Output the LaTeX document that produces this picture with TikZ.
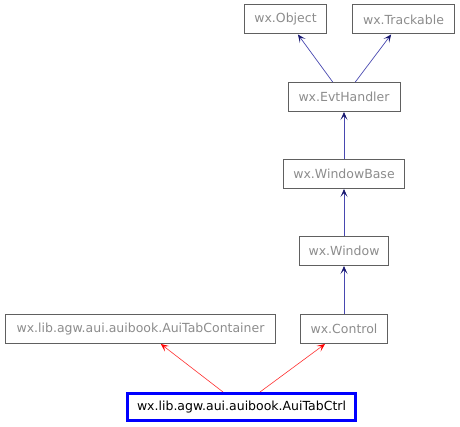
\documentclass[tikz,border=0pt]{standalone}
\usepackage{fontspec}
\setmainfont{DejaVu Sans}
\usetikzlibrary{arrows.meta,calc}
\definecolor{boxgray}{HTML}{606060}
\definecolor{txtgray}{HTML}{8C8C8C}
\definecolor{edgeblue}{HTML}{4848B0}
\definecolor{tipblue}{HTML}{191970}
\definecolor{edgered}{HTML}{FF3030}
\begin{document}
\begin{tikzpicture}[x=1pt,y=-1pt,
  cls/.style={draw=boxgray, line width=1pt, text=txtgray, inner sep=0pt,
    minimum height=29pt, font=\fontsize{12.5}{14}\selectfont},
  focus/.style={draw=blue, line width=3pt, text=black, inner sep=0pt,
    minimum height=27pt, minimum width=228pt, font=\fontsize{12.5}{14}\selectfont},
  inh/.style={draw=edgeblue, line width=0.7pt, -{Stealth[length=8pt,width=7pt,inset=4pt,color=tipblue]}},
  inhr/.style={draw=edgered, line width=0.6pt, -{Stealth[length=8pt,width=7pt,inset=4pt,color=red]}}]
\useasboundingbox (0,0) rectangle (460,427);
\node[cls, minimum width=82pt] (obj) at (285.5,19.5) {wx.Object};
\node[cls, minimum width=102pt] (trk) at (403.5,19.5) {wx.Trackable};
\node[cls, minimum width=112pt] (evt) at (344,97) {wx.EvtHandler};
\node[cls, minimum width=121pt] (wb) at (344,174) {wx.WindowBase};
\node[cls, minimum width=89pt] (win) at (344,251) {wx.Window};
\node[cls, minimum width=87pt] (ctl) at (344,329) {wx.Control};
\node[cls, minimum width=270pt] (cont) at (140.5,329) {wx.lib.agw.aui.auibook.AuiTabContainer};
\node[focus] (ctrl) at (241.5,407) {wx.lib.agw.aui.auibook.AuiTabCtrl};
\draw[inh] ($(evt.north west)!0.40!(evt.north east)$) -- ($(obj.south west)!0.65!(obj.south east)$);
\draw[inh] ($(evt.north west)!0.60!(evt.north east)$) -- ($(trk.south west)!0.38!(trk.south east)$);
\draw[inh] (wb.north) -- (evt.south);
\draw[inh] (win.north) -- (wb.south);
\draw[inh] (ctl.north) -- (win.south);
\draw[inhr] ($(ctrl.north west)!0.42!(ctrl.north east)$) -- ($(cont.south west)!0.575!(cont.south east)$);
\draw[inhr] ($(ctrl.north west)!0.58!(ctrl.north east)$) -- ($(ctl.south west)!0.284!(ctl.south east)$);
\end{tikzpicture}
\end{document}
